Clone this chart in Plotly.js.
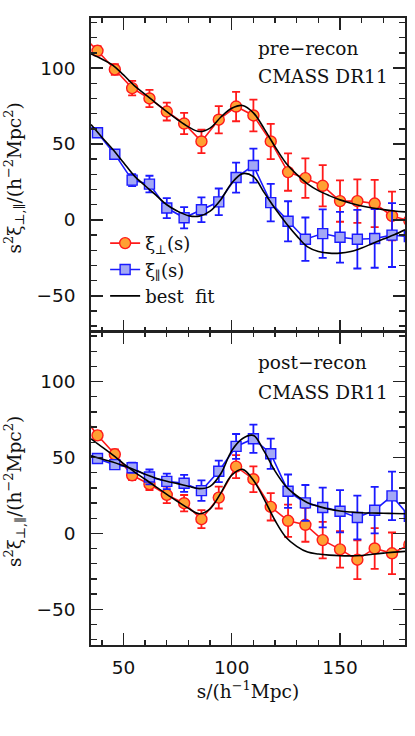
<!DOCTYPE html>
<html>
<head>
<meta charset="utf-8">
<script src="https://cdn.plot.ly/plotly-3.0.1.min.js"></script>
<style>
  html, body { margin: 0; padding: 0; background: #fff; }
  #plot { width: 415px; height: 736px; }
</style>
</head>
<body>
<div id="plot"></div>
<script>
// separation bins (h^-1 Mpc), incl. one clipped bin either side
var s = [30, 38, 46, 54, 62, 70, 78, 86, 94, 102, 110, 118, 126, 134, 142, 150, 158, 166, 174, 182];

// pre-recon
var prePerp    = [123, 111.4, 99.1, 86.8, 80, 71.4, 63.5, 51.7, 66, 74.7, 68.8, 51.7, 31.5, 27.5, 22.5, 12.4, 12.4, 10.8, 2.6, -0.5];
var prePerpErr = [3, 3, 3.5, 4.8, 5.7, 5.9, 7, 7.7, 9, 9.7, 10.5, 11.6, 12.3, 13, 13.6, 13.6, 14.3, 15.6, 16, 17];
var prePar     = [66, 57.4, 43.3, 26.2, 23.6, 7.8, 1.4, 6.7, 11.9, 27.9, 35.8, 11.4, -0.9, -12.7, -9, -11.4, -12.7, -12.2, -10, -11];
var preParErr  = [2, 2, 2.6, 4, 5.5, 6.6, 7, 8.1, 8.8, 9.9, 11.2, 12.3, 13.2, 14.3, 16, 16.7, 19.3, 19.3, 21, 22];

// post-recon
var postPerp    = [80, 64.6, 52.1, 38.3, 32.4, 25.4, 19.9, 9.4, 23.6, 44, 35.7, 17.5, 8.3, 5.7, -4.4, -10.5, -17.3, -9.9, -13.1, -7.4];
var postPerpErr = [3, 3, 3.3, 3.1, 3.8, 5.4, 5.4, 5.9, 7.2, 7.6, 8.5, 9, 10.6, 11.2, 12, 12, 12.8, 13.4, 13.7, 14];
var postPar     = [53, 49.3, 45.3, 43.3, 37.2, 34.3, 33, 28.2, 40.9, 57.3, 62.4, 52.5, 27.8, 20.1, 17.1, 14.6, 10.5, 15.3, 24.7, 11.2];
var postParErr  = [2, 2, 2.5, 3.3, 4.9, 5.1, 5.6, 6.8, 7.1, 8.2, 9.3, 10, 11, 11.8, 13.1, 13.9, 14.4, 15.3, 16, 16.5];

// best fit models
var sFit = [35, 40, 45, 50, 55, 60, 65, 70, 75, 80, 85, 90, 95, 100, 105, 110, 115, 120, 125, 130, 135, 140, 145, 150, 155, 160, 165, 170, 175, 180];
var preFitPerp  = [109.3, 106, 102, 95.5, 88.5, 82.7, 77, 71.3, 66, 61.3, 58.2, 60.5, 67.8, 73.6, 75.4, 70.5, 60, 48.2, 37.5, 30, 23.8, 19.3, 16, 13.2, 11, 9.2, 7.9, 6.8, 5.9, 5.3];
var preFitPar   = [62.8, 54.5, 46.6, 37.8, 29, 22.5, 16.3, 10, 5.7, 2.8, 2.5, 5.8, 13.5, 24.3, 30.5, 28.5, 18, 7.5, -2, -10.5, -17.8, -20.8, -21.9, -21.9, -20.8, -18.5, -15.5, -12.6, -9.8, -6.5];
var postFitPerp = [62.3, 57, 51.7, 46, 40.6, 35.7, 30.7, 25.7, 21, 16.5, 13, 16.2, 26.7, 38.4, 42.2, 35, 22.5, 8.5, -2.5, -8.5, -12.3, -13.6, -14.3, -14.7, -14.8, -14.5, -13.7, -13, -12.3, -11.8];
var postFitPar  = [51.1, 49, 47, 44.5, 41.9, 39, 36.4, 34.4, 32.8, 31.1, 29.5, 31, 39.5, 54.5, 62.5, 64.5, 54, 41, 31, 24.8, 20.2, 17.8, 16, 14.8, 14.1, 13.6, 13.4, 13.3, 13.1, 13];

var red = "#ff1a1a", blue = "#1a1aff";
var serif = "DejaVu Serif";

function dataTrace(y, err, ya, name, col, fill, sym, show) {
  return {
    x: s, y: y, xaxis: ya == "y2" ? "x2" : "x", yaxis: ya,
    type: "scatter", mode: "lines+markers", name: name, showlegend: show,
    line: {color: col, width: 1.6},
    marker: {symbol: sym, size: sym == "circle" ? 11 : 10, color: fill, line: {color: col, width: 1.4}},
    error_y: {type: "data", array: err, visible: true, color: col, thickness: 1.8, width: 4}
  };
}
function fitTrace(y, ya, show) {
  return {
    x: sFit, y: y, xaxis: ya == "y2" ? "x2" : "x", yaxis: ya,
    type: "scatter", mode: "lines", name: "best  fit", showlegend: show,
    line: {color: "#000", width: 1.6, shape: "spline", smoothing: 1}
  };
}

var data = [
  dataTrace(prePerp, prePerpErr, "y2", "ξ<sub>⊥</sub>(s)", red, "#ffa033", "circle", true),
  dataTrace(prePar, preParErr, "y2", "ξ<sub>∥</sub>(s)", blue, "#a3a8f5", "square", true),
  fitTrace(preFitPerp, "y2", true),
  fitTrace(preFitPar, "y2", false),
  dataTrace(postPerp, postPerpErr, "y", "perp", red, "#ffa033", "circle", false),
  dataTrace(postPar, postParErr, "y", "par", blue, "#a3a8f5", "square", false),
  fitTrace(postFitPerp, "y", false),
  fitTrace(postFitPar, "y", false)
];

var xBase = {
  range: [35, 180], tick0: 0, dtick: 50, ticks: "inside", ticklen: 12, tickwidth: 1.4, tickcolor: "#222",
  minor: {dtick: 10, ticks: "inside", ticklen: 5, tickwidth: 1.4, tickcolor: "#222"},
  showline: true, linecolor: "#222", linewidth: 1.8, mirror: "ticks",
  showgrid: false, zeroline: false,
  tickfont: {family: "DejaVu Sans", size: 18.5, color: "#111"}
};
var yBase = {
  range: [-73.5, 133], tick0: 0, dtick: 50, ticks: "inside", ticklen: 12, tickwidth: 1.4, tickcolor: "#222",
  minor: {dtick: 10, ticks: "inside", ticklen: 6, tickwidth: 1.4, tickcolor: "#222"},
  showline: true, linecolor: "#222", linewidth: 1.8, mirror: "ticks",
  showgrid: false, zeroline: false, ticklabelstandoff: 10,
  tickfont: {family: "DejaVu Sans", size: 18.5, color: "#111"}
};

var ytitle = "s<sup>2</sup>ξ<sub>⊥,∥</sub>/(h<sup>−2</sup>Mpc<sup>2</sup>)";
var textFont = {family: serif, size: 18.5, color: "#111"};

var layout = {
  width: 415, height: 736,
  margin: {l: 91, r: 10, t: 18, b: 91},
  paper_bgcolor: "#fff", plot_bgcolor: "#fff",
  xaxis: Object.assign({}, xBase, {anchor: "y", ticklabelstandoff: 5,
    title: {text: "s/(h<sup>−1</sup>Mpc)", font: textFont, standoff: 2}}),
  xaxis2: Object.assign({}, xBase, {anchor: "y2", matches: "x", showticklabels: false}),
  yaxis: Object.assign({}, yBase, {domain: [0, 0.5], anchor: "x"}),
  yaxis2: Object.assign({}, yBase, {domain: [0.5, 1], anchor: "x2"}),
  showlegend: true,
  legend: {x: 0.045, y: 0.67, xanchor: "left", yanchor: "top", bgcolor: "rgba(0,0,0,0)",
    font: {family: serif, size: 18, color: "#111"}, itemwidth: 30, tracegroupgap: 0},
  annotations: [
    {text: "pre−recon", xref: "paper", yref: "paper", x: 0.524, y: 0.952, xanchor: "left", yanchor: "middle", showarrow: false, font: textFont},
    {text: "CMASS DR11", xref: "paper", yref: "paper", x: 0.524, y: 0.906, xanchor: "left", yanchor: "middle", showarrow: false, font: textFont},
    {text: "post−recon", xref: "paper", yref: "paper", x: 0.524, y: 0.451, xanchor: "left", yanchor: "middle", showarrow: false, font: textFont},
    {text: "CMASS DR11", xref: "paper", yref: "paper", x: 0.524, y: 0.4035, xanchor: "left", yanchor: "middle", showarrow: false, font: textFont},
    {text: ytitle, xref: "paper", yref: "paper", x: -0.243, y: 0.745, xanchor: "center", yanchor: "middle", textangle: -90, showarrow: false, font: {family: serif, size: 18.5, color: "#111"}},
    {text: ytitle, xref: "paper", yref: "paper", x: -0.243, y: 0.245, xanchor: "center", yanchor: "middle", textangle: -90, showarrow: false, font: {family: serif, size: 18.5, color: "#111"}}
  ]
};

Plotly.newPlot("plot", data, layout, {displayModeBar: false, staticPlot: true});
</script>
</body>
</html>
